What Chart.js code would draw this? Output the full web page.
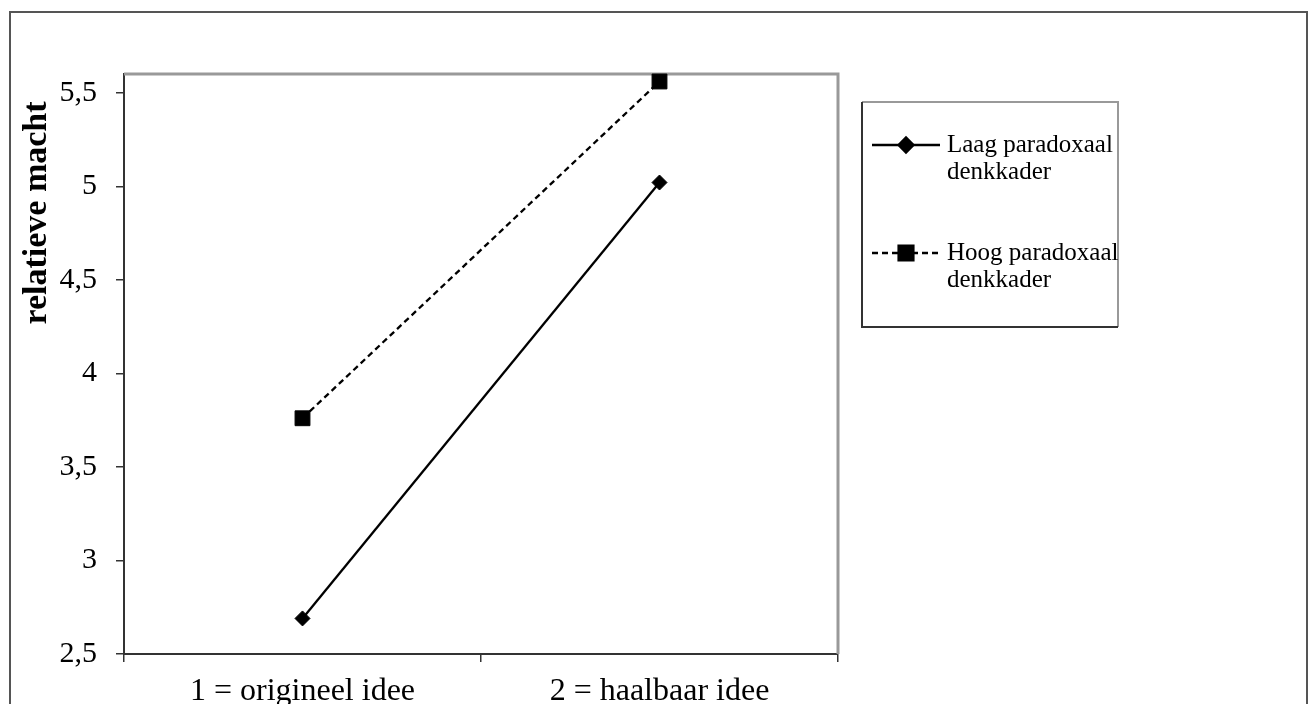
<!DOCTYPE html>
<html>
<head>
<meta charset="utf-8">
<script src="https://cdn.jsdelivr.net/npm/chart.js@4/dist/chart.umd.min.js"></script>
<style>
  html, body { margin: 0; padding: 0; background: #fff; }
  #wrap { width: 1312px; height: 704px; position: relative; }
</style>
</head>
<body>
<div id="wrap"><canvas id="c" width="1312" height="704"></canvas></div>
<script>
const categories = ['1 = origineel idee', '2 = haalbaar idee'];
const seriesNames = [['Laag paradoxaal', 'denkkader'], ['Hoog paradoxaal', 'denkkader']];
const laagValues = [2.69, 5.02];
const hoogValues = [3.76, 5.56];
const yTickValues = [2.5, 3, 3.5, 4, 4.5, 5, 5.5];
const yTitle = 'relatieve macht';

const FONT = "'Liberation Serif', 'Times New Roman', serif";

const framePlugin = {
  id: 'frame',
  beforeDraw(chart) {
    const ctx = chart.ctx;
    ctx.save();
    ctx.fillStyle = '#fff';
    ctx.fillRect(0, 0, chart.width, chart.height);
    ctx.strokeStyle = '#555';
    ctx.lineWidth = 2;
    ctx.strokeRect(10, 12, 1297, 720);
    ctx.restore();
  },
  beforeDatasetsDraw(chart) {
    const ctx = chart.ctx;
    const a = chart.chartArea;
    ctx.save();
    ctx.strokeStyle = '#999';
    ctx.lineWidth = 3;
    ctx.beginPath();
    ctx.moveTo(a.left, a.top);
    ctx.lineTo(a.right, a.top);
    ctx.lineTo(a.right, a.bottom);
    ctx.stroke();
    ctx.restore();
  },
  afterDraw(chart) {
    const ctx = chart.ctx;
    ctx.save();
    ctx.translate(37, 213);
    ctx.rotate(-Math.PI / 2);
    ctx.fillStyle = '#000';
    ctx.font = "bold 34px " + FONT;
    ctx.textAlign = 'center';
    ctx.textBaseline = 'middle';
    ctx.fillText(yTitle, 0, 0);
    ctx.restore();

    const bx = 862, by = 102, bw = 256, bh = 225;
    ctx.save();
    ctx.fillStyle = '#fff';
    ctx.fillRect(bx, by, bw, bh);
    ctx.lineWidth = 2;
    ctx.strokeStyle = '#999';
    ctx.beginPath();
    ctx.moveTo(bx, by); ctx.lineTo(bx + bw, by); ctx.lineTo(bx + bw, by + bh);
    ctx.stroke();
    ctx.strokeStyle = '#333';
    ctx.beginPath();
    ctx.moveTo(bx, by); ctx.lineTo(bx, by + bh); ctx.lineTo(bx + bw, by + bh);
    ctx.stroke();
    const rows = [145, 253];
    chart.data.datasets.forEach((ds, i) => {
      const y = rows[i];
      ctx.save();
      ctx.strokeStyle = ds.borderColor;
      ctx.lineWidth = ds.borderWidth;
      ctx.setLineDash(ds.borderDash || []);
      ctx.beginPath();
      ctx.moveTo(872, y);
      ctx.lineTo(940, y);
      ctx.stroke();
      ctx.setLineDash([]);
      ctx.fillStyle = ds.pointBackgroundColor;
      ctx.strokeStyle = ds.pointBorderColor;
      Chart.helpers.drawPoint(ctx, {
        pointStyle: ds.pointStyle,
        radius: ds.pointRadius,
        rotation: 0,
        borderWidth: 1
      }, 906, y);
      ctx.restore();
      ctx.fillStyle = '#000';
      ctx.font = "25px " + FONT;
      ctx.textAlign = 'left';
      ctx.textBaseline = 'middle';
      seriesNames[i].forEach((line, j) => {
        ctx.fillText(line, 947, y + j * 27);
      });
    });
    ctx.restore();
  }
};

new Chart(document.getElementById('c'), {
  type: 'line',
  data: {
    labels: categories,
    datasets: [
      {
        label: seriesNames[0].join(' '),
        data: laagValues,
        borderColor: '#000',
        borderWidth: 2.3,
        pointStyle: 'rectRot',
        pointRadius: 7.5,
        pointBackgroundColor: '#000',
        pointBorderColor: '#000',
        pointBorderWidth: 1,
        fill: false,
        tension: 0,
        clip: false
      },
      {
        label: seriesNames[1].join(' '),
        data: hoogValues,
        borderColor: '#000',
        borderWidth: 2.3,
        borderDash: [6, 4],
        pointStyle: 'rect',
        pointRadius: 10.5,
        pointBackgroundColor: '#000',
        pointBorderColor: '#000',
        pointBorderWidth: 1,
        fill: false,
        tension: 0,
        clip: false
      }
    ]
  },
  options: {
    responsive: false,
    animation: false,
    devicePixelRatio: 1,
    layout: { padding: { left: 0, top: 74, right: 474, bottom: 0 } },
    plugins: { legend: { display: false }, title: { display: false }, tooltip: { enabled: false } },
    events: [],
    scales: {
      x: {
        type: 'category',
        offset: true,
        grid: { offset: true, drawOnChartArea: false, drawTicks: true, tickLength: 8, color: '#333', lineWidth: 1.5 },
        border: { display: true, color: '#333', width: 2 },
        ticks: { color: '#000', font: { family: FONT, size: 32 }, padding: 10, maxRotation: 0, autoSkip: false },
        afterFit(scale) { scale.height = 50; }
      },
      y: {
        type: 'linear',
        min: 2.5,
        max: 5.6,
        grid: { drawOnChartArea: false, drawTicks: true, tickLength: 8, color: '#333', lineWidth: 1.5 },
        border: { display: true, color: '#333', width: 2 },
        ticks: {
          color: '#000',
          font: { family: FONT, size: 30 },
          padding: 19,
          callback: (v) => String(v).replace('.', ',')
        },
        afterBuildTicks(scale) { scale.ticks = yTickValues.map(v => ({ value: v })); },
        afterFit(scale) { scale.width = 124; }
      }
    }
  },
  plugins: [framePlugin]
});
</script>
</body>
</html>
